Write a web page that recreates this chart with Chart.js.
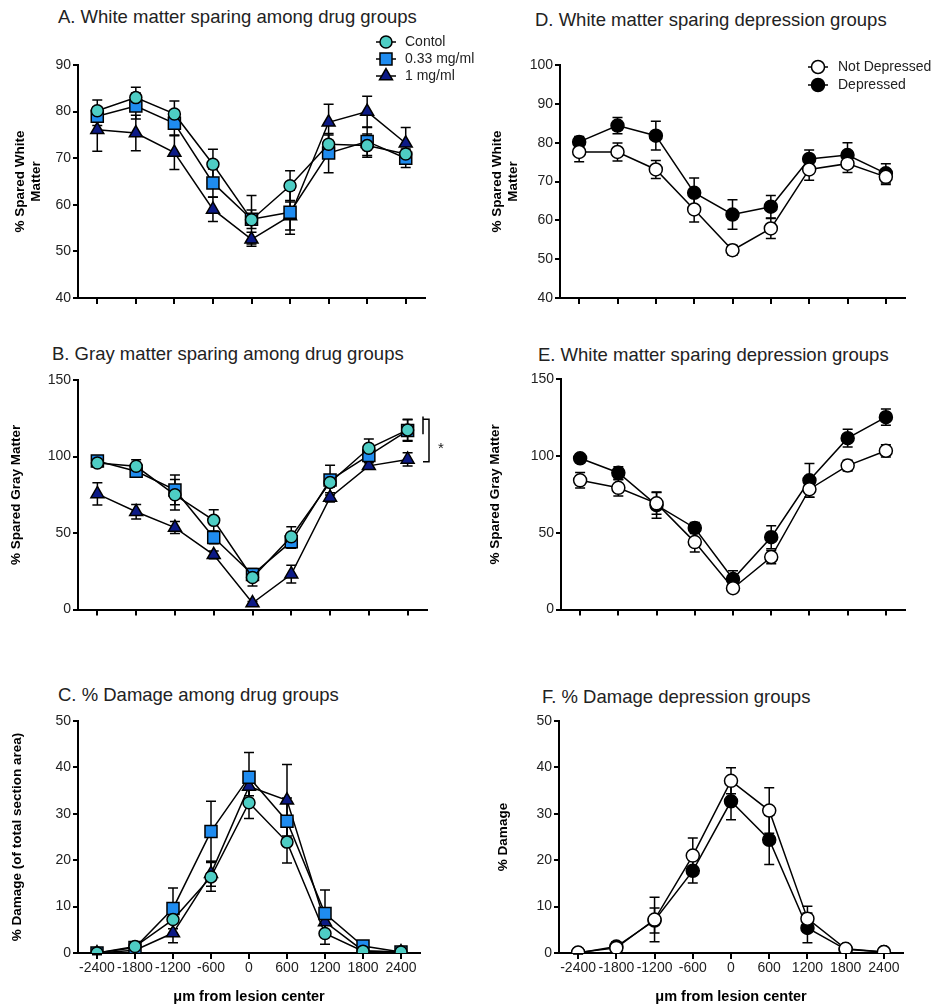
<!DOCTYPE html>
<html>
<head>
<meta charset="utf-8">
<script src="https://cdn.jsdelivr.net/npm/chart.js@4.4.1/dist/chart.umd.min.js"></script>
<style>
  body { margin: 0; background: #fff; width: 932px; height: 1007px; position: relative; overflow: hidden;
         font-family: "Liberation Sans", Arial, sans-serif; }
  canvas { position: absolute; }
  .title { position: absolute; font-size: 18.5px; line-height: 22px; color: #222; white-space: nowrap; }
</style>
</head>
<body>
<div class="title" style="left:58px;top:6px">A. White matter sparing among drug groups</div>
<div class="title" style="left:535px;top:9px">D. White matter sparing depression groups</div>
<div class="title" style="left:52px;top:343px">B. Gray matter sparing among drug groups</div>
<div class="title" style="left:538px;top:344px">E. White matter sparing depression groups</div>
<div class="title" style="left:58px;top:684px">C. % Damage among drug groups</div>
<div class="title" style="left:542px;top:686px">F. % Damage depression groups</div>

<canvas id="chartA" width="480" height="280" style="left:0;top:30px"></canvas>
<canvas id="chartD" width="452" height="280" style="left:480px;top:30px"></canvas>
<canvas id="chartB" width="480" height="300" style="left:0;top:320px"></canvas>
<canvas id="chartE" width="452" height="300" style="left:480px;top:320px"></canvas>
<canvas id="chartC" width="480" height="347" style="left:0;top:660px"></canvas>
<canvas id="chartF" width="452" height="347" style="left:480px;top:660px"></canvas>

<script>
// 공통 x 위치 (µm)
const POSITIONS = ["-2400", "-1800", "-1200", "-600", "0", "600", "1200", "1800", "2400"];
const DRUG_GROUPS = ["Contol", "0.33 mg/ml", "1 mg/ml"];
const DEP_GROUPS = ["Not Depressed", "Depressed"];

// A. white matter, drug groups (mean, SEM)
const wmControl    = [80.2, 83.0, 79.5, 68.7, 56.8, 64.1, 73.0, 72.7, 70.9];
const wmControlErr = [2.3, 2.2, 2.8, 3.2, 5.2, 3.2, 2.0, 2.5, 1.8];
const wmLow        = [79.0, 81.2, 77.5, 64.7, 56.9, 58.4, 71.1, 73.6, 70.0];
const wmLowErr     = [2.0, 2.8, 2.5, 3.0, 2.0, 4.7, 4.2, 3.0, 2.0];
const wmHigh       = [76.1, 75.4, 71.2, 59.0, 52.6, 57.6, 77.7, 80.0, 73.2];
const wmHighErr    = [4.6, 3.8, 3.6, 2.6, 1.5, 3.0, 3.9, 3.3, 3.4];

// B. gray matter, drug groups
const gmControl    = [95.8, 93.6, 75.0, 58.3, 21.0, 47.6, 83.1, 105.4, 117.4];
const gmControlErr = [2.0, 4.3, 10.0, 7.0, 5.6, 6.6, 3.0, 6.0, 7.0];
const gmLow        = [97.1, 90.4, 78.2, 47.1, 22.9, 44.4, 84.6, 100.7, 117.0];
const gmLowErr     = [2.0, 3.2, 9.7, 4.0, 4.0, 4.3, 9.7, 4.0, 7.0];
const gmHigh       = [75.6, 63.9, 53.6, 35.8, 4.3, 23.1, 73.3, 93.9, 98.1];
const gmHighErr    = [7.3, 4.7, 3.9, 2.5, 1.0, 5.8, 3.0, 2.0, 4.3];

// C. % damage, drug groups
const dmgControl    = [0.0, 1.4, 7.2, 16.4, 32.4, 23.9, 4.2, 0.4, 0.2];
const dmgControlErr = [0.3, 0.8, 3.0, 3.1, 3.4, 4.5, 2.3, 0.3, 0.2];
const dmgLow        = [0.0, 1.2, 9.6, 26.2, 37.9, 28.4, 8.5, 1.5, 0.2];
const dmgLowErr     = [0.3, 0.8, 4.4, 6.5, 5.3, 5.0, 5.1, 0.5, 0.2];
const dmgHigh       = [0.0, 0.6, 4.3, 17.1, 35.9, 32.9, 6.7, 0.5, 0.2];
const dmgHighErr    = [0.2, 0.5, 2.1, 2.7, 2.0, 7.7, 2.0, 0.3, 0.2];

// D. white matter, depression groups
const wmNotDep    = [77.6, 77.6, 73.1, 62.8, 52.3, 57.9, 73.1, 74.6, 71.2];
const wmNotDepErr = [2.5, 2.3, 2.3, 3.2, 1.3, 2.6, 2.8, 2.3, 2.0];
const wmDep       = [80.2, 84.4, 81.8, 67.1, 61.5, 63.5, 75.8, 76.8, 72.1];
const wmDepErr    = [1.4, 2.1, 3.7, 3.8, 3.8, 2.9, 2.3, 3.2, 2.5];

// E. gray matter, depression groups
const gmNotDep    = [84.1, 79.2, 69.1, 43.9, 13.9, 34.2, 78.3, 93.7, 103.3];
const gmNotDepErr = [5.0, 5.3, 7.0, 6.5, 2.0, 4.3, 5.3, 3.5, 4.0];
const gmDep       = [98.4, 89.0, 68.0, 53.1, 19.9, 47.1, 84.1, 111.5, 125.2];
const gmDepErr    = [1.5, 4.0, 8.5, 3.6, 5.3, 7.5, 11.0, 5.8, 5.3];

// F. % damage, depression groups
const dmgNotDep    = [0.1, 1.1, 7.2, 21.0, 37.1, 30.7, 7.4, 0.9, 0.2];
const dmgNotDepErr = [0.2, 0.8, 4.8, 3.8, 2.8, 4.9, 2.7, 0.3, 0.2];
const dmgDep       = [0.0, 1.4, 7.0, 17.7, 32.7, 24.4, 5.4, 0.8, 0.2];
const dmgDepErr    = [0.2, 1.0, 2.7, 2.6, 4.0, 5.3, 3.2, 0.3, 0.2];

const FONT = "'Liberation Sans', Arial, sans-serif";
Chart.defaults.font.family = FONT;
Chart.defaults.color = "#222";

// 마커 스타일
const STYLES = {
  "Contol":        { pointStyle: "circle",   pointRadius: 6,   fill: "#4ecdc4" },
  "0.33 mg/ml":    { pointStyle: "rect",     pointRadius: 8.5, fill: "#1f8cf0" },
  "1 mg/ml":       { pointStyle: "triangle", pointRadius: 7.5, fill: "#0c1a86" },
  "Not Depressed": { pointStyle: "circle",   pointRadius: 6.5, fill: "#ffffff" },
  "Depressed":     { pointStyle: "circle",   pointRadius: 6.5, fill: "#000000" }
};

function makeDataset(label, values, errors) {
  const s = STYLES[label];
  return {
    label: label,
    data: values,
    errors: errors,
    borderColor: "#000",
    borderWidth: 1.5,
    pointStyle: s.pointStyle,
    pointRadius: s.pointRadius,
    pointBackgroundColor: s.fill,
    pointBorderColor: "#000",
    pointBorderWidth: 1.5,
    tension: 0
  };
}

// 오차 막대
const errorBars = {
  id: "errorBars",
  beforeDatasetsDraw(chart) {
    const ctx = chart.ctx;
    const y = chart.scales.y;
    ctx.save();
    ctx.strokeStyle = "#000";
    ctx.lineWidth = 1.5;
    chart.data.datasets.forEach((ds, di) => {
      const meta = chart.getDatasetMeta(di);
      meta.data.forEach((pt, i) => {
        const e = ds.errors[i];
        if (!e) return;
        const top = y.getPixelForValue(ds.data[i] + e);
        const bot = y.getPixelForValue(ds.data[i] - e);
        ctx.beginPath();
        ctx.moveTo(pt.x, top); ctx.lineTo(pt.x, bot);
        ctx.moveTo(pt.x - 5, top); ctx.lineTo(pt.x + 5, top);
        ctx.moveTo(pt.x - 5, bot); ctx.lineTo(pt.x + 5, bot);
        ctx.stroke();
      });
    });
    ctx.restore();
  }
};

// 범례 (선 + 마커)
const lineLegend = {
  id: "lineLegend",
  afterDraw(chart, args, opts) {
    if (!opts || !opts.show) return;
    const ctx = chart.ctx;
    ctx.save();
    chart.data.datasets.forEach((ds, i) => {
      const cy = opts.y + i * opts.gap;
      ctx.strokeStyle = "#000";
      ctx.lineWidth = 1.5;
      ctx.beginPath();
      ctx.moveTo(opts.x - 10, cy); ctx.lineTo(opts.x + 10, cy);
      ctx.stroke();
      ctx.fillStyle = ds.pointBackgroundColor;
      ctx.strokeStyle = "#000";
      Chart.helpers.drawPoint(ctx, {
        pointStyle: ds.pointStyle, radius: ds.pointRadius, borderWidth: 1.5, rotation: 0
      }, opts.x, cy);
      ctx.fillStyle = "#222";
      ctx.font = "14px " + FONT;
      ctx.textBaseline = "middle";
      ctx.textAlign = "left";
      ctx.fillText(ds.label, opts.textX, cy);
    });
    ctx.restore();
  }
};

// 유의성 표시 (B)
const sigBracket = {
  id: "sigBracket",
  afterDraw(chart, args, opts) {
    if (!opts || !opts.show) return;
    const ctx = chart.ctx;
    const y = chart.scales.y;
    const r = chart.chartArea.right;
    const yTop = y.getPixelForValue(opts.top);
    const yBot = y.getPixelForValue(opts.bottom);
    ctx.save();
    ctx.strokeStyle = "#000";
    ctx.lineWidth = 1.5;
    ctx.beginPath();
    ctx.moveTo(r - 4, y.getPixelForValue(opts.tickTop));
    ctx.lineTo(r - 4, y.getPixelForValue(opts.tickBottom));
    ctx.moveTo(r - 4, yTop); ctx.lineTo(r + 2, yTop);
    ctx.lineTo(r + 2, yBot); ctx.lineTo(r - 4, yBot);
    ctx.stroke();
    ctx.fillStyle = "#222";
    ctx.font = "15px " + FONT;
    ctx.textAlign = "center";
    ctx.textBaseline = "middle";
    ctx.fillText("*", r + 14, (yTop + yBot) / 2 + 8);
    ctx.restore();
  }
};

function makeChart(id, datasets, o) {
  return new Chart(document.getElementById(id), {
    type: "line",
    data: { labels: POSITIONS, datasets: datasets },
    plugins: [errorBars, lineLegend, sigBracket],
    options: {
      responsive: false,
      animation: false,
      events: [],
      layout: { padding: { top: o.padTop, right: o.padRight, left: 0, bottom: 0 } },
      plugins: {
        legend: { display: false },
        tooltip: { enabled: false },
        lineLegend: o.legend || { show: false },
        sigBracket: o.bracket || { show: false }
      },
      scales: {
        x: {
          type: "category",
          offset: true,
          grid: { offset: false, drawOnChartArea: false, drawTicks: true, tickLength: 6, color: "#000", lineWidth: 2 },
          border: { color: "#000", width: 2 },
          ticks: { display: !!o.xLabels, autoSkip: false, maxRotation: 0, padding: 1, color: "#222", font: { size: 14 } },
          title: {
            display: !!o.xLabels,
            text: "\u03bcm from lesion center",
            color: "#000",
            font: { size: 14.5, weight: "bold" },
            padding: { top: 0, bottom: 1 }
          },
          afterFit: s => { s.height = o.xHeight; }
        },
        y: {
          min: o.min, max: o.max,
          ticks: { stepSize: o.step, padding: 2, color: "#222", font: { size: 14 } },
          grid: { drawOnChartArea: false, drawTicks: true, tickLength: 5, color: "#000", lineWidth: 2 },
          border: { color: "#000", width: 2 },
          title: {
            display: true,
            text: o.yTitle,
            color: "#000",
            font: { size: 13.5, weight: "bold" },
            padding: { top: o.yTitlePad, bottom: 0 }
          },
          afterFit: s => { s.width = o.yWidth; }
        }
      }
    }
  });
}

makeChart("chartA", [
  makeDataset(DRUG_GROUPS[0], wmControl, wmControlErr),
  makeDataset(DRUG_GROUPS[1], wmLow, wmLowErr),
  makeDataset(DRUG_GROUPS[2], wmHigh, wmHighErr)
], { padTop: 35, padRight: 55, yWidth: 78, xHeight: 12, min: 40, max: 90, step: 10,
     yTitle: ["% Spared White", "Matter"], yTitlePad: 12,
     legend: { show: true, x: 386, y: 12, gap: 17, textX: 405 } });

makeChart("chartD", [
  makeDataset(DEP_GROUPS[0], wmNotDep, wmNotDepErr),
  makeDataset(DEP_GROUPS[1], wmDep, wmDepErr)
], { padTop: 35, padRight: 27, yWidth: 80, xHeight: 12, min: 40, max: 100, step: 10,
     yTitle: ["% Spared White", "Matter"], yTitlePad: 9,
     legend: { show: true, x: 338, y: 37, gap: 18, textX: 358 } });

makeChart("chartB", [
  makeDataset(DRUG_GROUPS[0], gmControl, gmControlErr),
  makeDataset(DRUG_GROUPS[1], gmLow, gmLowErr),
  makeDataset(DRUG_GROUPS[2], gmHigh, gmHighErr)
], { padTop: 60, padRight: 53, yWidth: 78, xHeight: 7, min: 0, max: 150, step: 50,
     yTitle: "% Spared Gray Matter", yTitlePad: 8,
     bracket: { show: true, top: 124.3, bottom: 96.6, tickTop: 126.2, tickBottom: 114.6 } });

makeChart("chartE", [
  makeDataset(DEP_GROUPS[0], gmNotDep, gmNotDepErr),
  makeDataset(DEP_GROUPS[1], gmDep, gmDepErr)
], { padTop: 59, padRight: 27, yWidth: 81, xHeight: 7, min: 0, max: 150, step: 50,
     yTitle: "% Spared Gray Matter", yTitlePad: 7 });

makeChart("chartC", [
  makeDataset(DRUG_GROUPS[0], dmgControl, dmgControlErr),
  makeDataset(DRUG_GROUPS[1], dmgLow, dmgLowErr),
  makeDataset(DRUG_GROUPS[2], dmgHigh, dmgHighErr)
], { padTop: 61, padRight: 60, yWidth: 78, xHeight: 54, min: 0, max: 50, step: 10, xLabels: true,
     yTitle: "% Damage (of total section area)", yTitlePad: 9 });

makeChart("chartF", [
  makeDataset(DEP_GROUPS[0], dmgNotDep, dmgNotDepErr),
  makeDataset(DEP_GROUPS[1], dmgDep, dmgDepErr)
], { padTop: 61, padRight: 29, yWidth: 79, xHeight: 54, min: 0, max: 50, step: 10, xLabels: true,
     yTitle: "% Damage", yTitlePad: 15 });
</script>
</body>
</html>
